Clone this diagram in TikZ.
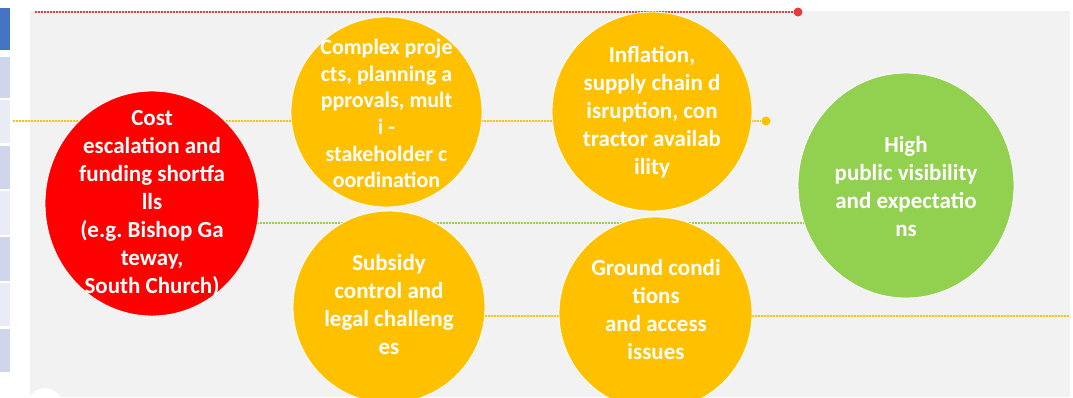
\documentclass[tikz,border=0pt]{standalone}
\usepackage{fontspec}
\setmainfont{Carlito}
\frenchspacing
\usetikzlibrary{shapes.geometric}

\definecolor{panelgray}{HTML}{F2F2F2}
\definecolor{riskred}{HTML}{FF0000}
\definecolor{riskamber}{HTML}{FFC000}
\definecolor{riskgreen}{HTML}{92D050}
\definecolor{tabdark}{HTML}{4472C4}
\definecolor{tabmid}{HTML}{CFD5EA}
\definecolor{tablight}{HTML}{E9EBF5}
\definecolor{markred}{HTML}{E53B3B}

\pgfdeclarelayer{bg}
\pgfdeclarelayer{links}
\pgfsetlayers{bg,links,main}

\begin{document}
\begin{tikzpicture}[x=1pt,y=-1pt,
  bubble/.style={ellipse, inner sep=0pt, draw=white, line width=0.8pt},
  bubbletext/.style={text=white, align=center, inner sep=0pt,
    font=\bfseries\fontsize{23}{28}\selectfont},
  dotline/.style={line width=1.6pt, dash pattern=on 1.5pt off 1.5pt},
  marker/.style={circle, inner sep=0pt, minimum size=9pt},
  tabcell/.style={inner sep=0pt, anchor=north west, minimum width=10pt}
]
\useasboundingbox (0,0) rectangle (1073,397);

% panel and side tabs
\begin{pgfonlayer}{bg}
  \fill[panelgray] (30,11) rectangle (1070,397);
  \node[tabcell, fill=tabdark,  minimum height=42pt] (tab0) at (0,8) {};
  \node[tabcell, fill=tabmid,   minimum height=41pt] (tab1) at (0,57) {};
  \node[tabcell, fill=tablight, minimum height=43pt] (tab2) at (0,100) {};
  \node[tabcell, fill=tabmid,   minimum height=43pt] (tab3) at (0,146) {};
  \node[tabcell, fill=tablight, minimum height=44pt] (tab4) at (0,191) {};
  \node[tabcell, fill=tabmid,   minimum height=44pt] (tab5) at (0,237) {};
  \node[tabcell, fill=tablight, minimum height=43pt] (tab6) at (0,283) {};
  \node[tabcell, fill=tabmid,   minimum height=43pt] (tab7) at (0,329) {};
  \node[circle, fill=white, minimum size=34pt, inner sep=0pt] (corner) at (45,405) {};
\end{pgfonlayer}

% risk bubbles
\node[bubble, fill=riskred,   minimum width=214pt, minimum height=225pt] (cost)    at (152,203.5) {};
\node[bubble, fill=riskamber, minimum width=191pt, minimum height=190pt] (complex) at (386.5,112) {};
\node[bubble, fill=riskamber, minimum width=192pt, minimum height=192pt] (subsidy) at (389,307) {};
\node[bubble, fill=riskamber, minimum width=200pt, minimum height=199pt] (inflation) at (652,111.5) {};
\node[bubble, fill=riskamber, minimum width=193pt, minimum height=193pt] (ground)  at (655.5,313.5) {};
\node[bubble, fill=riskgreen, minimum width=216pt, minimum height=225pt] (high)    at (906,185.5) {};

% end markers
\node[marker, fill=markred]   (reddot) at (798,12) {};
\node[marker, fill=riskamber] (ambdot) at (766,121) {};
\coordinate (redstart) at (35,12);
\coordinate (ambstart) at (13,121);
\coordinate (gy) at (0,223);
\coordinate (by) at (0,316);
\coordinate (rightend) at (1070,316);

% connectors
\begin{pgfonlayer}{links}
  \draw[dotline, markred]   (redstart) -- (reddot);
  \draw[dotline, riskamber] (ambstart) -- (ambdot);
  \draw[dotline, riskgreen] (cost.center |- gy) -- (high.center |- gy);
  \draw[dotline, riskamber] (subsidy.center |- by) -- (rightend);
\end{pgfonlayer}

% bubble texts
\node[bubbletext] (costtxt) at (152,203.5)
  {Cost\\escalation and\\funding shortfa\\lls\\(e.g. Bishop Ga\\teway,\\South Church)};
\node[bubbletext, font=\bfseries\fontsize{22}{26.6}\selectfont] (complextxt) at (386.5,113.5)
  {Complex proje\\cts, planning a\\pprovals, mult\\i -\\stakeholder c\\oordination};
\node[bubbletext] (subsidytxt) at (389,305)
  {Subsidy\\control and\\legal challeng\\es};
\node[bubbletext] (inflationtxt) at (652,112)
  {Inflation,\\supply chain d\\isruption, con\\tractor availab\\ility};
\node[bubbletext] (groundtxt) at (656,310)
  {Ground condi\\tions\\and access\\issues};
\node[bubbletext] (hightxt) at (906,186.5)
  {High\\public visibility\\and expectatio\\ns};
\end{tikzpicture}
\end{document}
